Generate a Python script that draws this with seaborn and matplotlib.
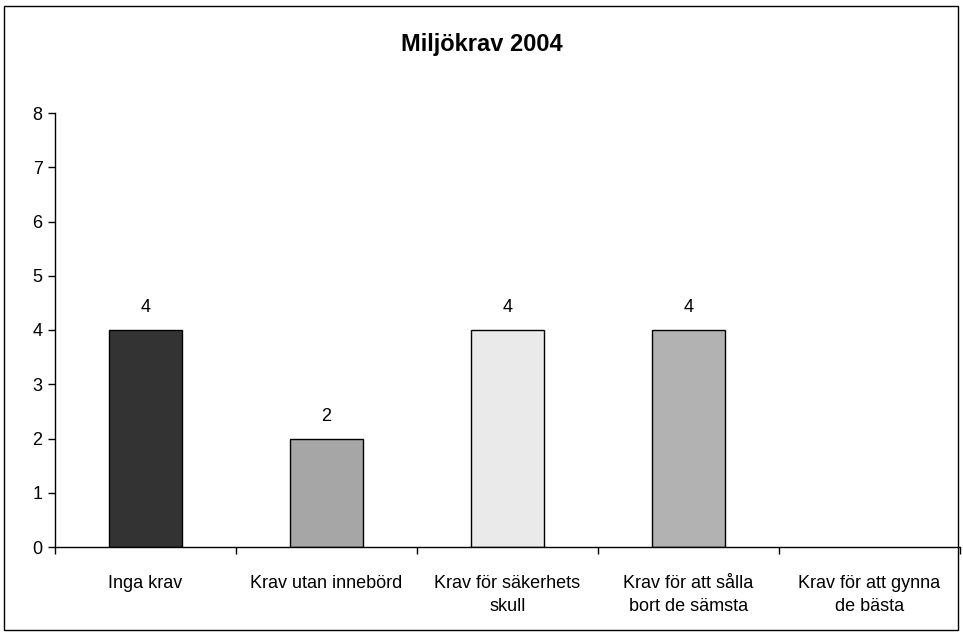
import matplotlib
matplotlib.use("Agg")
import matplotlib.pyplot as plt
import seaborn as sns
import pandas as pd
from matplotlib.patches import Rectangle

# Chart data
categories = ["Inga krav", "Krav utan innebörd", "Krav för säkerhets\nskull",
              "Krav för att sålla\nbort de sämsta", "Krav för att gynna\nde bästa"]
values = [4, 2, 4, 4, 0]
bar_colors = ["#333333", "#A6A6A6", "#EAEAEA", "#B2B2B2", "#FFFFFF"]
y_ticks = [0, 1, 2, 3, 4, 5, 6, 7, 8]

sns.set_style("white")
plt.rcParams['font.family'] = ['Liberation Sans', 'DejaVu Sans']
plt.rcParams['text.color'] = 'black'
plt.rcParams['xtick.color'] = 'black'
plt.rcParams['ytick.color'] = 'black'
plt.rcParams['xtick.labelcolor'] = 'black'
plt.rcParams['ytick.labelcolor'] = 'black'

df = pd.DataFrame({"kategori": categories, "antal": values})

fig = plt.figure(figsize=(9.63, 6.35), dpi=100)
ax = fig.add_axes([55 / 963, 1 - 547 / 635, 905 / 963, (547 - 113) / 635])

sns.barplot(data=df, x="kategori", y="antal", hue="kategori", palette=bar_colors,
            legend=False, width=0.4, edgecolor="black", linewidth=1, ax=ax)

# data labels (skip zero)
for cont, v in zip(ax.containers, values):
    if v > 0:
        ax.bar_label(cont, labels=[str(v)], padding=10, fontsize=13, color="black")
    else:
        for p in cont:
            p.set_linewidth(0)

ax.set_xlim(-0.5, 4.5)
ax.set_ylim(0, 8)
ax.set_yticks(y_ticks)
ax.set_xlabel("")
ax.set_ylabel("")

# category ticks between bars
ax.set_xticks(range(len(categories)))
ax.set_xticklabels(categories, fontsize=13, linespacing=1.5)
ax.set_xticks([i - 0.5 for i in range(len(categories) + 1)], minor=True)
ax.tick_params(axis="x", which="major", length=0, pad=20)
ax.tick_params(axis="x", which="minor", length=5, width=1, color="black", direction="out", bottom=True)
ax.tick_params(axis="y", length=5, width=1, color="black", direction="out", left=True, labelsize=13, pad=4)

for s in ["top", "right"]:
    ax.spines[s].set_visible(False)
for s in ["left", "bottom"]:
    ax.spines[s].set_color("black")
    ax.spines[s].set_linewidth(1)

fig.text(0.5, 1 - 45 / 635, "Miljökrav 2004", ha="center", va="center",
         fontsize=17, fontweight="bold", color="black")

# outer chart border
fig.patches.append(Rectangle((4 / 963, 1 - 630 / 635), 954 / 963, 624 / 635,
                             transform=fig.transFigure, fill=False,
                             edgecolor="black", linewidth=1))

fig.savefig("out.png", dpi=100)
